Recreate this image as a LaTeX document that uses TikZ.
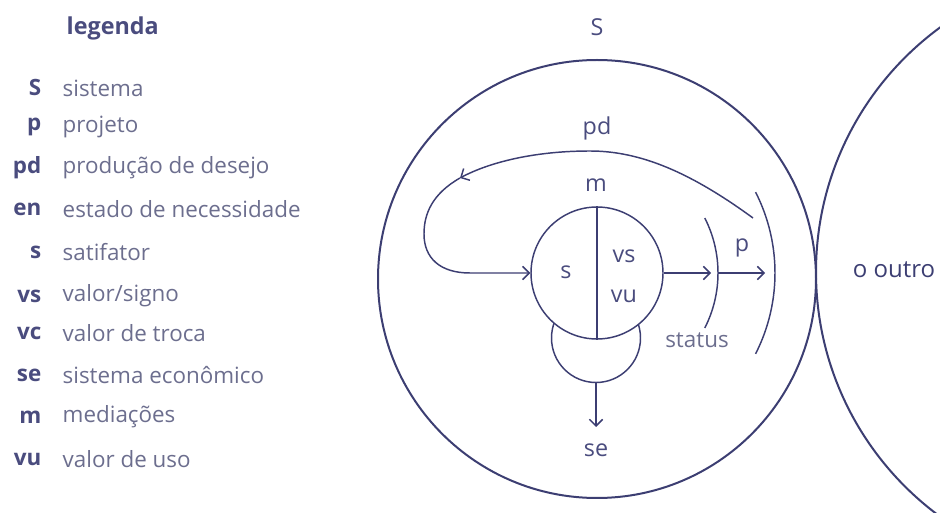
\documentclass[tikz,border=0pt]{standalone}
\usepackage{fontspec}
\setmainfont{Open Sans}
\usetikzlibrary{arrows.meta, calc}

\definecolor{linha}{HTML}{3C3E72}
\definecolor{rotulo}{HTML}{4A4C7E}
\definecolor{texto}{HTML}{6C6E8E}

\begin{document}
\begin{tikzpicture}[x = 0.75pt, y = -0.75pt,
		line/.style = {draw = linha, line width = 1.1pt},
		seta/.style = {line, -{Straight Barb[length = 5pt, width = 10pt]}},
		rot/.style = {text = rotulo, font = \fontsize{17.5}{20}\selectfont},
		abrev/.style = {rot, anchor = east, font = \fontsize{16.8}{20}\selectfont\bfseries},
		desc/.style = {text = texto, anchor = west, font = \fontsize{16.8}{20}\selectfont}]
	\useasboundingbox (0, 0) rectangle (940, 513);
	
	% Legend
	\node[rot, anchor = west, font = \fontsize{17.5}{20}\selectfont\bfseries] (legenda) at (62, 28) {legenda};
	\foreach \ab/\txt/\y [count = \i] in {S/sistema/88, p/projeto/127, pd/produção de desejo/168,
			en/estado de necessidade/209, s/satifator/252, vs/valor\slash signo/296,
			vc/valor de troca/333, se/sistema econômico/375, m/mediações/417, vu/valor de uso/459} {
		\node[abrev] (ab\i) at (46, \y) {\ab};
		\node[desc] (tx\i) at (58, \y) {\txt};
	}
	
	% Circles (sizes in pt: 1px = 0.75pt)
	\begin{scope}
		\clip (0, 0) rectangle (940, 513);
		\node[line, line width = 1.5pt, circle, minimum size = 454.5pt] (outro) at (1119, 272) {};
	\end{scope}
	\node[line, line width = 1.5pt, circle, minimum size = 328.5pt] (sistema) at (597, 279) {};
	\node[line, circle, fill = white, minimum size = 66.75pt] (base) at (596, 338) {};
	\node[line, circle, fill = white, minimum size = 99pt] (satisfator) at (597, 273) {};
	\draw[line] (satisfator.north) -- (satisfator.south);
	
	% Arcs
	\draw[line] (satisfator.center) ++(-27:121) arc (-27:27:121);
	\draw[line] (satisfator.center) ++(-27:178) arc (-27:27:178);
	\coordinate (status) at ($(satisfator.center) + (121, 0)$);
	\coordinate (projeto) at (765, 273);
	\coordinate (curva) at (460, 178);
	\coordinate (inicio) at (753, 218);
	\coordinate (se-ponta) at (596, 427);
	
	% Labels
	\node[rot] (S) at (597, 27) {S};
	\node[rot] (pd) at (597, 128) {pd};
	\node[rot] (m) at (596, 185) {m};
	\node[rot] (s) at (566, 272) {s};
	\node[rot] (vs) at (624, 256) {vs};
	\node[rot] (vu) at (624, 296) {vu};
	\node[rot] (p) at (742, 248) {p};
	\node[desc, anchor = center, text = texto] (statuslbl) at (697, 340) {status};
	\node[rot] (se) at (596, 450) {se};
	\node[rot, text = linha, font = \fontsize{18}{20}\selectfont] (outrolbl) at (894, 270) {o outro};
	
	% Edges
	\draw[seta] (satisfator.east) -- ($(status) + (-7, 0)$);
	\draw[seta] (status) -- (projeto);
	\draw[seta] (base.south) -- (se-ponta);
	\draw[seta] (inicio) .. controls (690, 172) and (640, 151) .. (590, 151)
		.. controls (535, 151) and (490, 162) .. (curva);
	\draw[seta] (curva) .. controls (432, 194) and (424, 214) .. (424, 234)
		.. controls (424, 258) and (440, 273) .. (470, 273) -- (satisfator.west);
\end{tikzpicture}
\end{document}
